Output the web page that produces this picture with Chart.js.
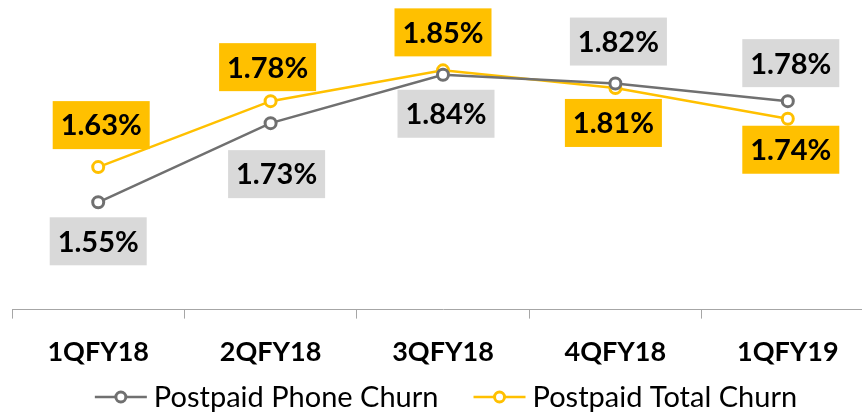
<!DOCTYPE html>
<html><head><meta charset="utf-8">
<script src="https://cdn.jsdelivr.net/npm/chart.js@4/dist/chart.umd.min.js"></script>
<style>
html,body{margin:0;padding:0;background:#fff;overflow:hidden;width:862px;height:413px;}
#wrap{position:relative;width:892px;height:413px;}
</style></head>
<body><div id="wrap"><canvas id="c"></canvas></div>
<script>
const categories = ["1QFY18","2QFY18","3QFY18","4QFY18","1QFY19"];
const phoneChurn = [1.55, 1.73, 1.84, 1.82, 1.78];
const totalChurn = [1.63, 1.78, 1.85, 1.81, 1.74];
const seriesNames = ["Postpaid Phone Churn","Postpaid Total Churn"];

// label placement offsets (px) relative to each point
const phoneLabelOffsets = [[0,39],[6,51],[3,39],[3,-42],[3,-38]];
const totalLabelOffsets = [[3,-42],[-3,-34],[0,-38],[-2,35],[3,31]];

const GRAY = '#707070', YELLOW = '#FFC000';

const labelPlugin = {
  id:'boxLabels',
  afterDatasetsDraw(chart){
    const ctx = chart.ctx;
    const cfg = [
      {offs: phoneLabelOffsets, bg:'#D9D9D9'},
      {offs: totalLabelOffsets, bg:YELLOW}
    ];
    ctx.save();
    ctx.font = 'bold 29px Lato';
    ctx.textAlign = 'center'; ctx.textBaseline = 'middle';
    chart.data.datasets.forEach((ds, di) => {
      const meta = chart.getDatasetMeta(di);
      meta.data.forEach((pt, i) => {
        const [dx, dy] = cfg[di].offs[i];
        const cx = pt.x + dx, cy = pt.y + dy;
        const w = 97, h = 48;
        ctx.fillStyle = cfg[di].bg;
        ctx.fillRect(cx - w/2, cy - h/2, w, h);
        ctx.fillStyle = '#000';
        ctx.fillText(ds.data[i].toFixed(2) + '%', cx, cy + 1);
      });
    });
    ctx.restore();
  }
};

const legendPlugin = {
  id:'lineLegend',
  afterDraw(chart){
    const ctx = chart.ctx;
    ctx.save();
    ctx.font = '29px Lato';
    ctx.textBaseline = 'middle';
    const iconW = 52, gapIcon = 7, gapItem = 35;
    const items = chart.data.datasets.map(ds => ({label: ds.label, color: ds.borderColor, tw: ctx.measureText(ds.label).width}));
    const total = items.reduce((s, it) => s + iconW + gapIcon + it.tw, 0) + gapItem * (items.length - 1);
    let x = chart.width / 2 - total / 2;
    const y = 397;
    items.forEach(it => {
      ctx.strokeStyle = it.color; ctx.lineWidth = 2.5;
      ctx.beginPath(); ctx.moveTo(x, y); ctx.lineTo(x + iconW, y); ctx.stroke();
      ctx.fillStyle = '#fff'; ctx.lineWidth = 3;
      ctx.beginPath(); ctx.arc(x + iconW/2, y, 5, 0, Math.PI*2); ctx.fill(); ctx.stroke();
      x += iconW + gapIcon;
      ctx.fillStyle = '#000';
      ctx.fillText(it.label, x, y + 1);
      x += it.tw + gapItem;
    });
    ctx.restore();
  }
};

new Chart(document.getElementById('c'), {
  type:'line',
  data:{
    labels: categories,
    datasets:[
      {label: seriesNames[0], data: phoneChurn, borderColor: GRAY, backgroundColor:'#fff',
       borderWidth:2.5, pointRadius:5.5, pointBorderWidth:3, pointBackgroundColor:'#fff', pointBorderColor:GRAY, tension:0},
      {label: seriesNames[1], data: totalChurn, borderColor: YELLOW, backgroundColor:'#fff',
       borderWidth:2.5, pointRadius:5.5, pointBorderWidth:3, pointBackgroundColor:'#fff', pointBorderColor:YELLOW, tension:0}
    ]
  },
  options:{
    responsive:true, maintainAspectRatio:false, animation:false,
    layout:{autoPadding:false, padding:{left:12, right:18, top:0, bottom:28}},
    scales:{
      x:{
        offset:true,
        grid:{drawOnChartArea:false, offset:true, tickLength:9, color:'#A6A6A6'},
        border:{color:'#A6A6A6', width:1},
        ticks:{font:{family:'Lato', size:27, weight:'bold'}, color:'#000', padding:17}
      },
      y:{display:false, min:1.306, max:2.01}
    },
    plugins:{
      legend:{display:false},
      tooltip:{enabled:false}
    }
  },
  plugins:[labelPlugin, legendPlugin]
});
</script>
</body></html>
